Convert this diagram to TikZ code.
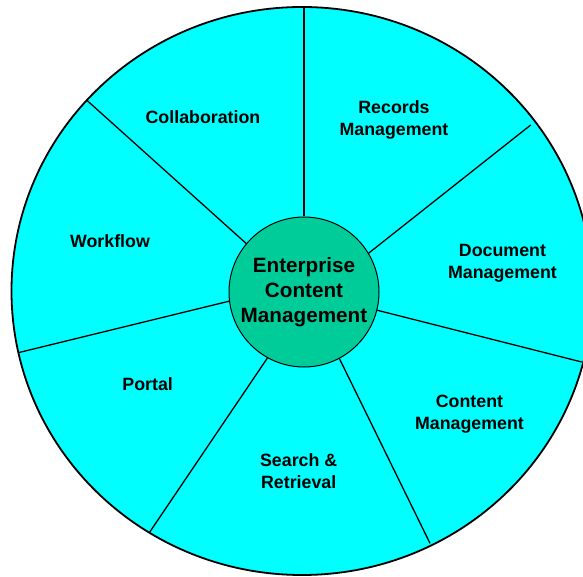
\documentclass[tikz,border=0pt]{standalone}
\usepackage{fontspec}
\setmainfont{Liberation Sans}
\usepackage{xcolor}
\usepackage{tikz}
\definecolor{wheelfill}{HTML}{00FFFF}
\definecolor{hubfill}{HTML}{00CC99}
\tikzset{
  wheel/.style={
    draw=black, line width=1.8pt, fill=wheelfill
  },
  hub/.style={
    circle, draw=black, line width=1pt, fill=hubfill,
    minimum size=150pt, inner sep=0pt,
    align=center, font=\fontsize{20.7}{25}\selectfont\bfseries
  },
  sector label/.style={
    align=center, inner sep=0pt,
    font=\fontsize{17.8}{22}\selectfont\bfseries
  },
  spoke/.style={
    draw=black, line width=1.3pt
  }
}

\begin{document}
\begin{tikzpicture}[x=1pt, y=1pt]
  \useasboundingbox (0, 0) rectangle (583, 576);

  % Outer wheel
  \draw[wheel] (302, 285) ellipse [x radius=290.5, y radius=284];

  % Rim points where the spokes end
  \coordinate (rimA) at (304, 569);
  \coordinate (rimB) at (530.7, 451);
  \coordinate (rimC) at (581.7, 214);
  \coordinate (rimD) at (430, 32.7);
  \coordinate (rimE) at (149.3, 43.3);
  \coordinate (rimF) at (18.3, 223.3);
  \coordinate (rimG) at (87.3, 475.3);

  % Hub
  \node[hub] (ecm) at (304, 284) {Enterprise\\Content\\Management};

  % Spokes
  \draw[spoke] (ecm.90) -- (rimA);
  \draw[spoke] (ecm.31) -- (rimB);
  \draw[spoke] (ecm.-14) -- (rimC);
  \draw[spoke] (ecm.-62) -- (rimD);
  \draw[spoke] (ecm.-119) -- (rimE);
  \draw[spoke] (ecm.187.5) -- (rimF);
  \draw[spoke] (ecm.140) -- (rimG);

  % Sector labels
  \node[sector label] (collab) at (203, 459) {Collaboration};
  \node[sector label] (records) at (394, 456.5) {Records\\Management};
  \node[sector label] (docmgmt) at (502.5, 313) {Document\\Management};
  \node[sector label] (contmgmt) at (469.5, 162) {Content\\Management};
  \node[sector label] (search) at (298.7, 105) {Search \&\\Retrieval};
  \node[sector label] (portal) at (147.7, 191.7) {Portal};
  \node[sector label] (workflow) at (110, 335) {Workflow};
\end{tikzpicture}
\end{document}
